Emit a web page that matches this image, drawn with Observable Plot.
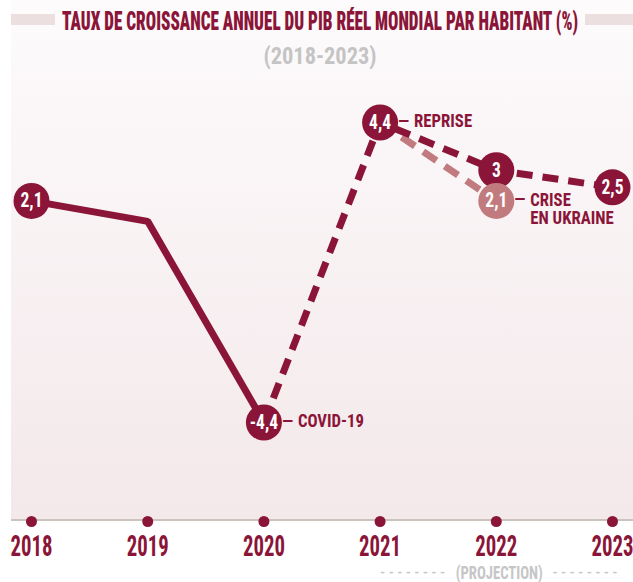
<!DOCTYPE html>
<html><head><meta charset="utf-8">
<script src="https://cdn.jsdelivr.net/npm/d3@7"></script>
<script src="https://cdn.jsdelivr.net/npm/@observablehq/plot@0.6"></script>
<style>
body{margin:0;background:#fff;}
#wrap{position:relative;width:633px;height:582px;overflow:hidden;font-family:'Roboto Condensed',Roboto,'DejaVu Sans',sans-serif;}
#panel{position:absolute;left:11px;top:0;width:622px;height:519px;background:linear-gradient(#fdfbfc,#f3e8ea);border-bottom:2px solid #cac3be;}
.bar{position:absolute;top:14px;height:11px;background:#ecdfe0;}
.head{position:absolute;left:0;width:633px;height:30px;}
.head span{position:absolute;left:320px;top:0;white-space:nowrap;transform-origin:center;}
#title{top:9px;font-size:25px;line-height:25px;font-weight:900;color:#8b1538;}
#subtitle{top:45px;font-size:23px;line-height:23px;font-weight:bold;color:#c4c4c4;}
#chart{position:absolute;left:0;top:0;}
</style></head><body>
<div id="wrap">
<div id="panel"></div>
<div class="bar" style="left:11px;width:44px"></div>
<div class="bar" style="left:585px;width:48px"></div>
<div class="head" id="title"><span></span></div>
<div class="head" id="subtitle"><span></span></div>
<div id="chart"></div>
</div>
<script>
const titleText = "TAUX DE CROISSANCE ANNUEL DU PIB RÉEL MONDIAL PAR HABITANT (%)";
const subtitleText = "(2018-2023)";

const years = [2018, 2019, 2020, 2021, 2022, 2023];
const growth = [2.1, 1.5, -4.4, 4.4, 3.0, 2.5];
const circled = [true, false, true, true, true, true];
const breakYear = 2020; // solid up to here, dashed after

const ukraineYears = [2021, 2022];
const ukraineGrowth = [4.4, 2.1];

const annotYears = [2020, 2021, 2022];
const annotValues = [-4.4, 4.4, 2.1];
const annotTexts = ["COVID-19", "REPRISE", "CRISE"];
const annotSecondLine = ["EN UKRAINE"];

const projectionLabel = "(PROJECTION)";
const projectionYears = [2021, 2023];
const dashesText = "- - - - - - - -";

const DARK = "#8b1538", LIGHT = "#c17b7e", GREY = "#c6c6c6";
const FONT = "'Roboto Condensed',Roboto,'DejaVu Sans',sans-serif";
const fmt = v => String(v).replace(".", ",");

const pts = years.map((year, i) => ({year, value: growth[i], circled: circled[i], label: fmt(growth[i])}));
const solid = pts.filter(d => d.year <= breakYear);
const dashed = pts.filter(d => d.year >= breakYear);
const circ = pts.filter(d => d.circled);
const ukr = ukraineYears.map((year, i) => ({year, value: ukraineGrowth[i], label: fmt(ukraineGrowth[i])}));
const ukrEnd = ukr.slice(1);
const annots = annotYears.map((year, i) => ({year, value: annotValues[i], text: annotTexts[i]}));
const second = [{year: annotYears[2], value: annotValues[2], text: annotSecondLine[0]}];
const projMid = (projectionYears[0] + projectionYears[1]) / 2;

const lineOpts = {x: "year", y: "value", strokeWidth: 7, strokeLinecap: "butt", strokeLinejoin: "miter"};

// fit specs: mark index -> [sample string, sample width in px]
const fits = new Map();
const marks = [];
function add(mark, fit) { if (fit) fits.set(marks.length, fit); marks.push(mark); }

add(Plot.line(ukr, {...lineOpts, stroke: LIGHT, strokeDasharray: "16,10"}));
add(Plot.line(solid, {...lineOpts, stroke: DARK}));
add(Plot.line(dashed, {...lineOpts, stroke: DARK, strokeDasharray: "16,10"}));
add(Plot.dot(circ, {x: "year", y: "value", r: 18, fill: DARK}));
add(Plot.dot(ukrEnd, {x: "year", y: "value", r: 18, fill: LIGHT}));
add(Plot.text(circ, {x: "year", y: "value", text: "label", fill: "white", fontSize: 20, fontWeight: "bold"}), ["2,1", 22]);
add(Plot.text(ukrEnd, {x: "year", y: "value", text: "label", fill: "white", fontSize: 20, fontWeight: "bold"}), ["2,1", 22]);
add(Plot.text(annots, {x: "year", y: "value", text: () => "—", textAnchor: "start", dx: 18, dy: -1, fill: DARK, fontSize: 17, fontWeight: "bold"}), ["—", 11]);
add(Plot.text(annots, {x: "year", y: "value", text: "text", textAnchor: "start", dx: 34, dy: -1, fill: DARK, fontSize: 17.5, fontWeight: "bold"}), ["REPRISE", 58]);
add(Plot.text(second, {x: "year", y: "value", text: "text", textAnchor: "start", dx: 34, dy: 17.5, fill: DARK, fontSize: 17.5, fontWeight: "bold"}), ["REPRISE", 58]);
add(Plot.dot(years, {x: d => d, frameAnchor: "bottom", r: 5.5, fill: DARK}));
add(Plot.text(years, {x: d => d, frameAnchor: "bottom", lineAnchor: "middle", dy: 25, text: d => String(d), fill: DARK, fontSize: 29, fontWeight: "bold"}), ["2018", 42]);
add(Plot.text([projectionYears[0]], {x: d => d, frameAnchor: "bottom", lineAnchor: "middle", dy: 51, text: () => dashesText, textAnchor: "start", fill: GREY, fontSize: 13, fontWeight: "bold"}), [dashesText, 65]);
add(Plot.text([projectionYears[1]], {x: d => d, frameAnchor: "bottom", lineAnchor: "middle", dx: 5, dy: 51, text: () => dashesText, textAnchor: "end", fill: GREY, fontSize: 13, fontWeight: "bold"}), [dashesText, 65]);
add(Plot.text([projMid], {x: d => d, frameAnchor: "bottom", lineAnchor: "middle", dx: 3, dy: 51, text: () => projectionLabel, fill: GREY, fontSize: 19, fontWeight: "bold"}), [projectionLabel, 87]);

const svg = Plot.plot({
  width: 633, height: 582,
  marginTop: 0, marginRight: 0, marginBottom: 61, marginLeft: 0,
  x: {domain: [2018, 2023], range: [31, 612], axis: null},
  y: {domain: [-4.4, 4.4], range: [422, 122], axis: null},
  style: {fontFamily: FONT, background: "transparent", overflow: "visible"},
  marks
});
document.getElementById("chart").appendChild(svg);

const groups = svg.querySelectorAll(":scope > g");
fits.forEach(([sample, width], i) => {
  const g = groups[i];
  if (!g) return;
  const tmp = document.createElementNS("http://www.w3.org/2000/svg", "text");
  tmp.textContent = sample;
  g.appendChild(tmp);
  const f = width / tmp.getComputedTextLength();
  tmp.remove();
  g.querySelectorAll("text").forEach(t => {
    const L = t.getComputedTextLength();
    t.setAttribute("textLength", L * f);
    t.setAttribute("lengthAdjust", "spacingAndGlyphs");
  });
});

function fitSpan(id, text, width) {
  const s = document.querySelector(`#${id} span`);
  s.textContent = text;
  s.style.transform = `translateX(-50%) scaleX(${width / s.offsetWidth})`;
}
fitSpan("title", titleText, 516);
fitSpan("subtitle", subtitleText, 113);
</script>
</body></html>
